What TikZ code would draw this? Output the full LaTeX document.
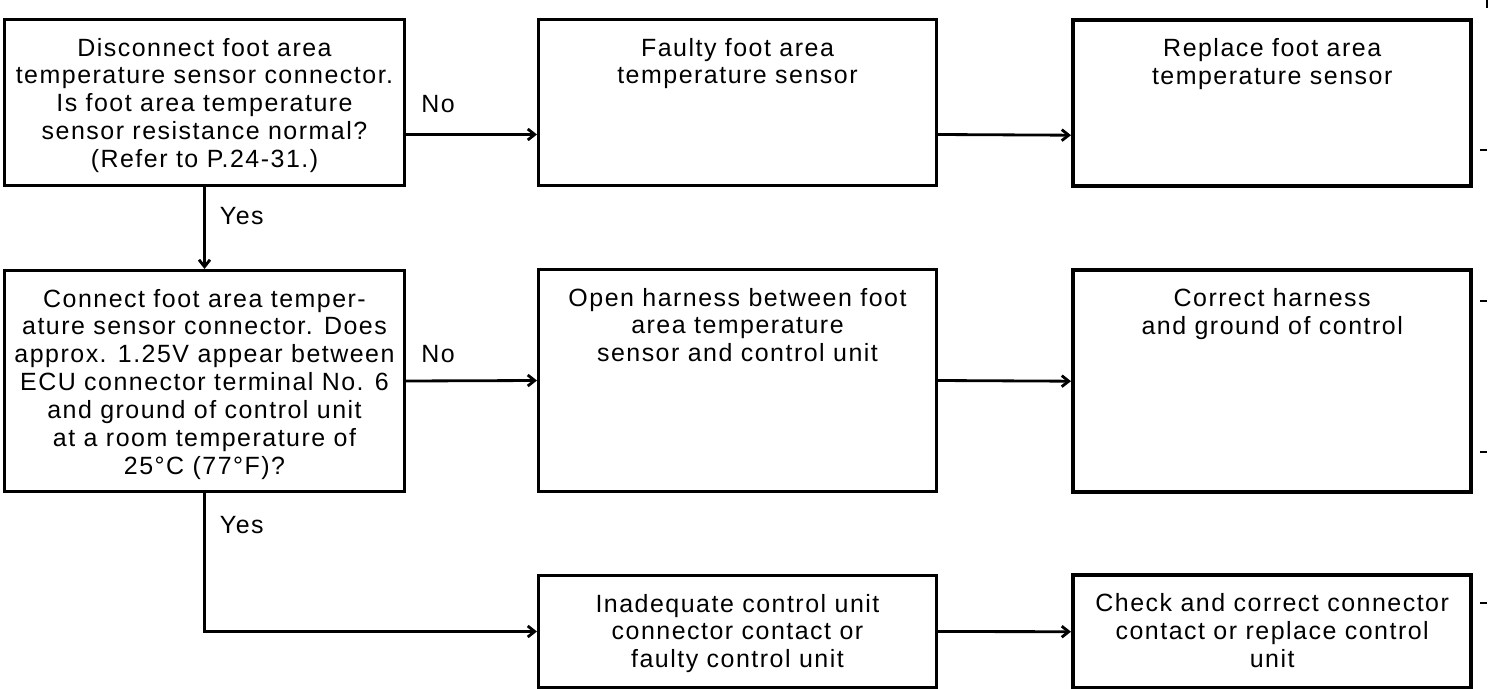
\documentclass[tikz,border=0pt]{standalone}
\usepackage{fontspec}
\setmainfont{Liberation Sans}[LetterSpace=6]
\usetikzlibrary{arrows.meta,positioning}
% text sits at the top of each box
\newcommand{\boxtext}[2]{\parbox[c][#1][t]{7.9cm}{\centering\rule{0pt}{7.3mm}#2}}

\begin{document}
\begin{tikzpicture}[
  arr/.style={line width=1.6pt,-{Straight Barb[length=1.4mm,width=2.2mm]}},
  chk/.style={draw,line width=1.7pt,anchor=north west,inner sep=0pt,minimum width=7.96cm,
    font=\fontsize{14.2}{15.9}\selectfont},
  fix/.style={chk,line width=2.5pt},
  lbl/.style={font=\fontsize{14.2}{15.9}\selectfont,inner sep=0pt},
]
  \useasboundingbox (0,0) rectangle (30.08,-13.76);

  \node[chk,minimum width=8cm] (qa) at (0.06,-0.36) {\boxtext{3.32cm}{Disconnect foot area\\temperature sensor connector.\\Is foot area temperature\\sensor resistance normal?\\(Refer to P.24-31.)}};
  \node[chk] (fs) at (10.74,-0.36) {\boxtext{3.32cm}{Faulty foot area\\temperature sensor}};
  \node[fix] (rs) at (21.42,-0.36) {\boxtext{3.32cm}{Replace foot area\\temperature sensor}};

  \node[chk,minimum width=8cm] (qb) at (0.06,-5.38) {\boxtext{4.42cm}{Connect foot area temper-\\ature sensor connector. Does\\approx. 1.25V appear between\\ECU connector terminal No. 6\\and ground of control unit\\at a room temperature of\\25°C (77°F)?}};
  \node[chk] (oh) at (10.74,-5.36) {\boxtext{4.44cm}{Open harness between foot\\area temperature\\sensor and control unit}};
  \node[fix] (ch) at (21.42,-5.36) {\boxtext{4.44cm}{Correct harness\\and ground of control}};

  \node[chk] (ic) at (10.74,-11.48) {\boxtext{2.24cm}{Inadequate control unit\\connector contact or\\faulty control unit}};
  \node[fix] (cc) at (21.42,-11.46) {\boxtext{2.26cm}{Check and correct connector\\contact or replace control\\unit}};

  % connectors
  \draw[arr] ([yshift=-6.4mm]qa.east) -- node[lbl,pos=0,anchor=base west,xshift=2.8mm,yshift=4.4mm] (no1) {No} ([yshift=-6.4mm]fs.west);
  \draw[arr] ([yshift=-6.4mm]fs.east) -- ([yshift=-6.4mm]rs.west);
  \draw[arr] (qa.south) -- node[lbl,pos=0,anchor=base west,xshift=2.8mm,yshift=-7.6mm] (yes1) {Yes} (qb.north);
  \draw[arr] (qb.east) -- node[lbl,pos=0,anchor=base west,xshift=2.8mm,yshift=3.8mm] (no2) {No} (oh.west);
  \draw[arr] (oh.east) -- (ch.west);
  \draw[arr] (qb.south) |- node[lbl,pos=0,anchor=base west,xshift=2.8mm,yshift=-8mm] (yes2) {Yes} (ic.west);
  \draw[arr] (ic.east) -- (cc.west);

  % margin ticks
  \draw[line width=0.8pt] (29.74,0) -- (29.74,-0.16);
  \foreach \y in {3.0,6.02,9.04,12.06}
    \draw[line width=0.8pt] (29.6,-\y) -- (29.74,-\y);
\end{tikzpicture}
\end{document}
